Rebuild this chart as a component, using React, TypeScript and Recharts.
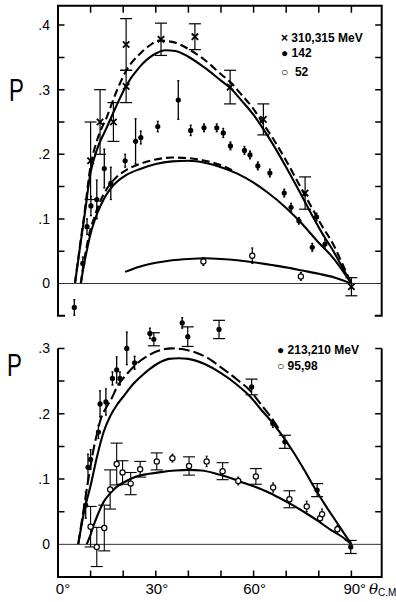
import React from "react";
import { ComposedChart, Line, Scatter, XAxis, YAxis, ReferenceLine, ErrorBar } from "recharts";

// theta (c.m., degrees) range of both frames
const T_MAX = 99.3;
const FONT = "Liberation Sans, Arial, sans-serif";
const INK = "black";

// ---- top panel curves [theta, P]
const curve310Solid = [[5.2,0],[7,0.065],[8,0.1],[10,0.172],[12,0.208],[15,0.242],[18,0.276],[21,0.307],[25,0.335],[30,0.356],[33,0.361],[36,0.36],[40,0.351],[45,0.334],[50,0.314],[53,0.302],[56,0.285],[60,0.261],[63,0.239],[66,0.215],[70,0.18],[74,0.143],[78,0.105],[81,0.078],[84.5,0.05],[87,0.027],[90,0]];
const curve315Dash = [[5.2,0],[7,0.068],[8,0.104],[10,0.182],[12,0.222],[15,0.258],[18,0.298],[21,0.33],[25,0.355],[28,0.368],[31,0.376],[35,0.374],[40,0.363],[45,0.346],[50,0.324],[53,0.311],[56,0.294],[60,0.27],[63,0.247],[66,0.224],[70,0.19],[74,0.153],[78,0.116],[81,0.089],[84.5,0.06],[87,0.033],[90,0]];
const curve142Solid = [[7,0],[8,0.03],[9,0.055],[10,0.077],[11,0.094],[12,0.108],[14,0.13],[16,0.146],[18,0.157],[21,0.168],[25,0.177],[30,0.185],[35,0.189],[40,0.19],[45,0.187],[50,0.18],[55,0.17],[60,0.156],[64,0.142],[70,0.117],[74,0.097],[80,0.063],[84.5,0.039],[90,0]];
const curve142Dash = [[7,0],[8,0.035],[9,0.062],[10,0.085],[11,0.1],[12,0.115],[14,0.138],[16,0.154],[18,0.165],[21,0.176],[25,0.185],[30,0.192],[35,0.195],[40,0.194],[45,0.19],[50,0.183],[54,0.174]];
const curve52 = [[20.6,0.018],[25,0.026],[30,0.032],[35,0.036],[40,0.038],[45,0.039],[50,0.038],[55,0.036],[60,0.033],[65,0.029],[70,0.025],[75,0.02],[80,0.015],[85,0.009],[90,0]];

// ---- top panel data {theta, P, error}
const pts310 = [
  { t: 10, p: 0.19, e: 0.06 }, { t: 12.9, p: 0.25, e: 0.05 }, { t: 17, p: 0.25, e: 0.03 },
  { t: 20.9, p: 0.37, e: 0.04 }, { t: 20.9, p: 0.305, e: 0.025 }, { t: 31.6, p: 0.378, e: 0.025 },
  { t: 42, p: 0.382, e: 0.02 }, { t: 52.8, p: 0.304, e: 0.026 }, { t: 63, p: 0.254, e: 0.024 },
  { t: 75.8, p: 0.14, e: 0.025 }, { t: 90, p: -0.005, e: 0.014 },
];
const pts142 = [
  { t: 5, p: -0.037, e: 0.012 }, { t: 7.6, p: 0.031, e: 0.01 }, { t: 8.9, p: 0.088, e: 0.012 },
  { t: 10.1, p: 0.12, e: 0.015 }, { t: 11.9, p: 0.13, e: 0.03 }, { t: 14.2, p: 0.178, e: 0.03 },
  { t: 16.2, p: 0.155, e: 0.025 }, { t: 20.6, p: 0.19, e: 0.01 }, { t: 23.8, p: 0.22, e: 0.035 },
  { t: 25.4, p: 0.226, e: 0.01 }, { t: 30.6, p: 0.243, e: 0.008 }, { t: 36.9, p: 0.284, e: 0.03 },
  { t: 40.7, p: 0.237, e: 0.008 }, { t: 44.8, p: 0.241, e: 0.006 }, { t: 48.7, p: 0.241, e: 0.006 },
  { t: 50.7, p: 0.233, e: 0.007 }, { t: 52.9, p: 0.213, e: 0.006 }, { t: 57.2, p: 0.206, e: 0.006 },
  { t: 58.9, p: 0.199, e: 0.006 }, { t: 61.3, p: 0.182, e: 0.006 }, { t: 65, p: 0.171, e: 0.006 },
  { t: 69.4, p: 0.14, e: 0.006 }, { t: 71.5, p: 0.118, e: 0.006 }, { t: 73.9, p: 0.097, e: 0.005 },
  { t: 78, p: 0.056, e: 0.006 }, { t: 79.3, p: 0.103, e: 0.006 }, { t: 81.9, p: 0.061, e: 0.007 },
];
const pts52 = [{ t: 44.6, p: 0.034, e: 0.006 }, { t: 59.6, p: 0.043, e: 0.012 }, { t: 74.5, p: 0.011, e: 0.006 }];

// ---- bottom panel curves
const curve213Solid = [[6.2,0],[8,0.05],[10,0.09],[12,0.135],[14,0.172],[16,0.196],[18,0.213],[20,0.226],[23,0.245],[25,0.255],[28,0.268],[31,0.278],[34,0.284],[37,0.285],[40,0.284],[45,0.276],[50,0.262],[55,0.244],[59,0.226],[62,0.208],[66,0.185],[69,0.165],[72,0.143],[76,0.11],[79,0.084],[82,0.06],[86,0.03],[90,0]];
const curve210Dash = [[6.2,0],[8,0.058],[9,0.09],[10,0.12],[11,0.148],[12,0.17],[13,0.19],[14.5,0.207],[16.5,0.224],[18,0.24],[21,0.26],[24,0.276],[28,0.29],[32,0.298],[35,0.3],[38,0.299],[42,0.294],[46,0.285],[50,0.271],[55,0.252],[59,0.235],[62,0.216],[66,0.19],[68,0.175]];
const curve95 = [[8.8,0],[10,0.015],[11,0.03],[12,0.043],[14,0.065],[16,0.078],[18,0.088],[21,0.097],[24,0.104],[28,0.108],[32,0.111],[36,0.113],[40,0.114],[44,0.113],[48,0.109],[52,0.103],[56,0.096],[60,0.089],[64,0.081],[68,0.071],[72,0.06],[76,0.048],[80,0.035],[84,0.021],[87,0.012],[90,0]];

// ---- bottom panel data
const pts213 = [
  { t: 8.5, p: 0.06, e: 0.02 }, { t: 9.2, p: 0.118, e: 0.02 }, { t: 10, p: 0.13, e: 0.015 },
  { t: 12.4, p: 0.172, e: 0.01 }, { t: 12.9, p: 0.215, e: 0.02 }, { t: 14.7, p: 0.218, e: 0.02 },
  { t: 16.7, p: 0.254, e: 0.01 }, { t: 18, p: 0.267, e: 0.02 }, { t: 19, p: 0.254, e: 0.01 },
  { t: 21.1, p: 0.3, e: 0.025 }, { t: 23.5, p: 0.278, e: 0.01 }, { t: 28.2, p: 0.323, e: 0.008 },
  { t: 38.1, p: 0.339, e: 0.008 }, { t: 65.9, p: 0.185, e: 0.006 },
];
const pts210 = [
  { t: 29.4, p: 0.314, e: 0.01 }, { t: 39.8, p: 0.318, e: 0.015 }, { t: 49.4, p: 0.329, e: 0.014 },
  { t: 59.4, p: 0.241, e: 0.012 }, { t: 69.6, p: 0.157, e: 0.01 }, { t: 79.5, p: 0.083, e: 0.01 },
  { t: 89.8, p: -0.004, e: 0.01 },
];
const pts95 = [
  { t: 10, p: 0.027, e: 0.031 }, { t: 11.9, p: -0.004, e: 0.03 }, { t: 14.2, p: 0.025, e: 0.035 },
  { t: 16, p: 0.084, e: 0.03 }, { t: 18, p: 0.123, e: 0.032 }, { t: 19.8, p: 0.11, e: 0.018 },
  { t: 22.3, p: 0.093, e: 0.017 }, { t: 25.2, p: 0.115, e: 0.012 }, { t: 30.3, p: 0.127, e: 0.013 },
  { t: 40.2, p: 0.12, e: 0.014 }, { t: 50.5, p: 0.112, e: 0.013 }, { t: 60.7, p: 0.104, e: 0.012 },
  { t: 71, p: 0.069, e: 0.013 },
];
const pts98 = [
  { t: 35.1, p: 0.132, e: 0.006 }, { t: 45.6, p: 0.127, e: 0.008 }, { t: 55.3, p: 0.097, e: 0.006 },
  { t: 66, p: 0.087, e: 0.007 }, { t: 76.3, p: 0.058, e: 0.008 }, { t: 80.4, p: 0.04, e: 0.006 },
  { t: 81, p: 0.046, e: 0.008 }, { t: 85.7, p: 0.023, e: 0.006 },
];

// ---- ticks
const topYTicks = [0, 0.1, 0.2, 0.3, 0.4];
const topYMarks = [0.05, 0.1, 0.15, 0.2, 0.25, 0.3, 0.35, 0.4];
const xMarks = [10, 20, 30, 40, 50, 60, 70, 80, 90];
const botYTicks = [0, 0.1, 0.2, 0.3];
const botYMarks = [0.05, 0.1, 0.15, 0.2, 0.25, 0.3];
const botXTicks = [0, 30, 60, 90];

const TOP_DOM = [-0.05, 0.43];
const BOT_DOM = [-0.05, 0.35];
const BOT_FRAME_TOP = 0.3;

// layout shared by the charts and the frame overlay
const W = 396;
const PLOT_L = 58;
const MARGIN_R = 14.3;
const TOP_H = 330, TOP_MT = 5.7, TOP_MB = 14.2;
const BOT_Y0 = 300, BOT_H = 302, BOT_MT = 15.75, BOT_XH = 25;

const pts = (a: number[][]) => a.map(([t, p]) => ({ t, p }));
const fmtP = (v: number) => (v === 0 ? "0" : "." + Math.round(v * 10));

const d310s = pts(curve310Solid), d315d = pts(curve315Dash), d142s = pts(curve142Solid);
const d142d = pts(curve142Dash), d52 = pts(curve52);
const d213s = pts(curve213Solid), d210d = pts(curve210Dash), d95 = pts(curve95);

// linear maps matching the chart layout (frame and tick marks only)
function frameMaps(top: number, bottom: number, dom: number[]) {
  const R = W - MARGIN_R;
  const sx = (t: number) => PLOT_L + (t / T_MAX) * (R - PLOT_L);
  const sy = (p: number) => bottom - ((p - dom[0]) / (dom[1] - dom[0])) * (bottom - top);
  return { R, sx, sy };
}
function topFramePaths() {
  const top = TOP_MT, bottom = TOP_H - TOP_MB;
  const { R, sx, sy } = frameMaps(top, bottom, TOP_DOM);
  const border = `M${PLOT_L + 7},${bottom}H${PLOT_L}V${top}H${R}V${bottom}H${R - 7}`;
  let marks = "";
  topYMarks.forEach((v) => { marks += `M${PLOT_L},${sy(v)}h6.5M${R},${sy(v)}h-6.5`; });
  xMarks.forEach((t) => { marks += `M${sx(t)},${top}v7`; });
  return { border, marks };
}
function botFramePaths() {
  const top = BOT_Y0 + BOT_MT, bottom = BOT_Y0 + BOT_H - BOT_XH;
  const { R, sx, sy } = frameMaps(top, bottom, BOT_DOM);
  const border = `M${PLOT_L},${sy(BOT_FRAME_TOP)}V${bottom}H${R}V${sy(BOT_FRAME_TOP)}`;
  let marks = "";
  botYMarks.forEach((v) => { marks += `M${PLOT_L},${sy(v)}h6.5M${R},${sy(v)}h-6.5`; });
  xMarks.forEach((t) => { marks += `M${sx(t)},${bottom}v-6.5`; });
  return { border, marks };
}

const Cross = (props: any) => {
  const { cx, cy } = props;
  const s = 3.2;
  return (
    <path d={`M${cx - s},${cy - s}L${cx + s},${cy + s}M${cx + s},${cy - s}L${cx - s},${cy + s}`} stroke={INK} strokeWidth={1.8} />
  );
};
const FilledDot = (props: any) => <circle cx={props.cx} cy={props.cy} r={2.6} fill={INK} />;
const OpenDot = (props: any) => <circle cx={props.cx} cy={props.cy} r={2.6} fill="#fff" stroke={INK} strokeWidth={1.2} />;

const XTickLabel = (props: any) => {
  const { x, y, payload } = props;
  const v = payload.value;
  const st = { fontFamily: FONT, fontSize: 15, fill: INK };
  if (v === 90) {
    return (
      <text x={x - 8} y={y + 17} {...st}>
        90°
        <tspan dx={3} fontStyle="italic" fontFamily="DejaVu Serif, serif">θ</tspan>
        <tspan fontSize={10} dy={2}>C.M</tspan>
      </text>
    );
  }
  return <text x={x + (v === 0 ? 5 : 1)} y={y + 17} textAnchor="middle" {...st}>{v}°</text>;
};

const tickStyle = { fontSize: 14, fill: INK, fontFamily: FONT };

function TopPanel() {
  return (
    <ComposedChart width={W} height={TOP_H} margin={{ top: TOP_MT, right: MARGIN_R, bottom: TOP_MB, left: 0 }}>
      <XAxis dataKey="t" type="number" domain={[0, T_MAX]} hide height={0} />
      <YAxis type="number" domain={TOP_DOM} ticks={topYTicks} tickFormatter={fmtP}
        width={PLOT_L} tick={tickStyle} tickLine={false} tickSize={0} tickMargin={8}
        axisLine={{ stroke: INK, strokeWidth: 2 }} />

      <Line data={d310s} dataKey="p" type="monotone" stroke={INK} strokeWidth={2.1} dot={false} isAnimationActive={false} />
      <Line data={d315d} dataKey="p" type="monotone" stroke={INK} strokeWidth={2.1} strokeDasharray="8 4" dot={false} isAnimationActive={false} />
      <Line data={d142s} dataKey="p" type="monotone" stroke={INK} strokeWidth={2.1} dot={false} isAnimationActive={false} />
      <Line data={d142d} dataKey="p" type="monotone" stroke={INK} strokeWidth={2.1} strokeDasharray="8 4" dot={false} isAnimationActive={false} />
      <Line data={d52} dataKey="p" type="monotone" stroke={INK} strokeWidth={2.1} dot={false} isAnimationActive={false} />

      <ReferenceLine y={0} stroke="#333" strokeWidth={1} />

      <Scatter data={pts310} dataKey="p" shape={Cross} isAnimationActive={false}>
        <ErrorBar dataKey="e" direction="y" width={6} stroke={INK} strokeWidth={1.2} />
      </Scatter>
      <Scatter data={pts142} dataKey="p" shape={FilledDot} isAnimationActive={false}>
        <ErrorBar dataKey="e" direction="y" width={1} stroke={INK} strokeWidth={1.3} />
      </Scatter>
      <Scatter data={pts52} dataKey="p" shape={OpenDot} isAnimationActive={false}>
        <ErrorBar dataKey="e" direction="y" width={1} stroke={INK} strokeWidth={1.2} />
      </Scatter>
    </ComposedChart>
  );
}

function BottomPanel() {
  return (
    <ComposedChart width={W} height={BOT_H} margin={{ top: BOT_MT, right: MARGIN_R, bottom: 0, left: 0 }}>
      <XAxis dataKey="t" type="number" domain={[0, T_MAX]} ticks={botXTicks}
        height={BOT_XH} tick={<XTickLabel />} tickLine={false} tickSize={0} tickMargin={0}
        axisLine={{ stroke: INK, strokeWidth: 2 }} interval={0} />
      <YAxis type="number" domain={BOT_DOM} ticks={botYTicks} tickFormatter={fmtP}
        width={PLOT_L} tick={tickStyle} tickLine={false} tickSize={0} tickMargin={8} axisLine={false} />

      <Line data={d213s} dataKey="p" type="monotone" stroke={INK} strokeWidth={2.1} dot={false} isAnimationActive={false} />
      <Line data={d210d} dataKey="p" type="monotone" stroke={INK} strokeWidth={2.1} strokeDasharray="11 4" dot={false} isAnimationActive={false} />
      <Line data={d95} dataKey="p" type="monotone" stroke={INK} strokeWidth={2.1} dot={false} isAnimationActive={false} />

      <ReferenceLine y={0} stroke="#333" strokeWidth={1} />

      <Scatter data={pts213} dataKey="p" shape={FilledDot} isAnimationActive={false}>
        <ErrorBar dataKey="e" direction="y" width={1} stroke={INK} strokeWidth={1.3} />
      </Scatter>
      <Scatter data={pts210} dataKey="p" shape={FilledDot} isAnimationActive={false}>
        <ErrorBar dataKey="e" direction="y" width={6} stroke={INK} strokeWidth={1.2} />
      </Scatter>
      <Scatter data={pts95} dataKey="p" shape={OpenDot} isAnimationActive={false}>
        <ErrorBar dataKey="e" direction="y" width={6} stroke={INK} strokeWidth={1.1} />
      </Scatter>
      <Scatter data={pts98} dataKey="p" shape={OpenDot} isAnimationActive={false}>
        <ErrorBar dataKey="e" direction="y" width={1} stroke={INK} strokeWidth={1.1} />
      </Scatter>
    </ComposedChart>
  );
}

const label = (left: number, top: number, size = 12, bold = true): React.CSSProperties => ({
  position: "absolute", left, top, fontFamily: FONT, fontSize: size, fontWeight: bold ? 700 : 400,
  color: INK, lineHeight: 1, whiteSpace: "nowrap",
});

export default function App() {
  const tf = topFramePaths();
  const bf = botFramePaths();
  return (
    <div style={{ position: "absolute", left: 0, top: 0, width: W, height: 602, background: "#fff" }}>
      <div style={{ position: "relative", width: W, height: 300 }}>
        <TopPanel />
      </div>
      <div style={{ position: "absolute", left: 0, top: BOT_Y0, width: W, height: BOT_H }}>
        <BottomPanel />
      </div>

      <svg width={W} height={602} style={{ position: "absolute", left: 0, top: 0, pointerEvents: "none" }}>
        <path d={tf.border} fill="none" stroke={INK} strokeWidth={2} />
        <path d={tf.marks} fill="none" stroke={INK} strokeWidth={1.5} />
        <path d={bf.border} fill="none" stroke={INK} strokeWidth={2} />
        <path d={bf.marks} fill="none" stroke={INK} strokeWidth={1.5} />
      </svg>

      <span style={{ ...label(9, 75, 31, false), transform: "scaleX(0.72)", transformOrigin: "left top" }}>P</span>
      <span style={{ ...label(7, 350, 31, false), transform: "scaleX(0.72)", transformOrigin: "left top" }}>P</span>

      <span style={label(281, 32)}>× 310,315 MeV</span>
      <span style={label(281, 47)}>● 142</span>
      <span style={label(281, 66)}>○ &nbsp;52</span>

      <span style={label(277, 344)}>● 213,210 MeV</span>
      <span style={label(277, 360)}>○ 95,98</span>
    </div>
  );
}
